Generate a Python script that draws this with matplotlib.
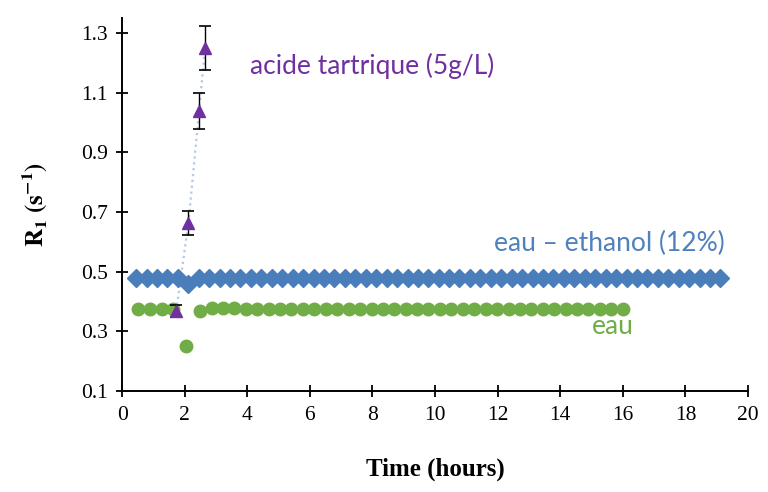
import matplotlib
matplotlib.use("Agg")
import matplotlib.pyplot as plt

plt.rcParams["mathtext.fontset"] = "stix"

# eau - ethanol (12%)
t_ethanol = [0.45, 0.78, 1.12, 1.45, 1.78, 2.12,
             2.45, 2.78, 3.12, 3.45, 3.78, 4.12, 4.45, 4.78, 5.12, 5.45, 5.78,
             6.12, 6.45, 6.78, 7.12, 7.45, 7.78, 8.12, 8.45, 8.78, 9.12, 9.45,
             9.78, 10.12, 10.45, 10.78, 11.12, 11.45, 11.78, 12.12, 12.45, 12.78,
             13.12, 13.45, 13.78, 14.12, 14.45, 14.78, 15.12, 15.45, 15.78, 16.12,
             16.45, 16.78, 17.12, 17.45, 17.78, 18.12, 18.45, 18.78, 19.12]
r1_ethanol = [0.48, 0.48, 0.48, 0.48, 0.48, 0.46,
              0.48, 0.48, 0.48, 0.48, 0.48, 0.48, 0.48, 0.48, 0.48, 0.48, 0.48,
              0.48, 0.48, 0.48, 0.48, 0.48, 0.48, 0.48, 0.48, 0.48, 0.48, 0.48,
              0.48, 0.48, 0.48, 0.48, 0.48, 0.48, 0.48, 0.48, 0.48, 0.48,
              0.48, 0.48, 0.48, 0.48, 0.48, 0.48, 0.48, 0.48, 0.48, 0.48,
              0.48, 0.48, 0.48, 0.48, 0.48, 0.48, 0.48, 0.48, 0.48]

# eau
t_eau = [0.52, 0.89, 1.27, 1.64, 2.03,
         2.49, 2.86, 3.22, 3.59, 3.95, 4.32, 4.68, 5.05, 5.41, 5.78, 6.14,
         6.51, 6.87, 7.24, 7.60, 7.97, 8.33, 8.70, 9.06, 9.43, 9.79, 10.16,
         10.52, 10.89, 11.25, 11.62, 11.98, 12.35, 12.71, 13.08, 13.44, 13.81,
         14.17, 14.54, 14.90, 15.27, 15.63, 16.00]
r1_eau = [0.375, 0.375, 0.375, 0.375, 0.25,
          0.37, 0.38, 0.378, 0.377, 0.376, 0.376, 0.376, 0.376, 0.376, 0.376, 0.376,
          0.376, 0.376, 0.376, 0.376, 0.376, 0.376, 0.376, 0.376, 0.376, 0.376, 0.376,
          0.376, 0.376, 0.376, 0.376, 0.376, 0.376, 0.376, 0.376, 0.376, 0.376,
          0.376, 0.376, 0.376, 0.376, 0.376, 0.376]

# acide tartrique (5g/L)
t_acide = [1.73, 2.12, 2.46, 2.65]
r1_acide = [0.37, 0.665, 1.04, 1.25]
err_acide = [0.02, 0.04, 0.06, 0.075]

fig = plt.figure(figsize=(7.68, 4.92), dpi=100)
ax = fig.add_axes([0.159, 0.205, 0.815, 0.758])

ax.plot(t_ethanol, r1_ethanol, linestyle="none", marker="D", markersize=9,
        color="#4a7ebb", zorder=3)
ax.plot(t_eau, r1_eau, linestyle="none", marker="o", markersize=9,
        color="#70ad47", zorder=3)
ax.plot(t_acide, r1_acide, linestyle=":", linewidth=1.6, color="#b3c8e2", zorder=2)
ax.errorbar(t_acide, r1_acide, yerr=err_acide, fmt="none", ecolor="black",
            elinewidth=1, capsize=4, capthick=1.2, zorder=4)
ax.plot(t_acide, r1_acide, linestyle="none", marker="^", markersize=8.5,
        color="#7030a0", zorder=5)

ax.set_xlim(0, 20)
ax.set_ylim(0.1, 1.35)
ax.set_xticks(range(0, 21, 2))
ax.set_yticks([0.1, 0.3, 0.5, 0.7, 0.9, 1.1, 1.3])
ax.set_yticklabels(["0.1", "0.3", "0.5", "0.7", "0.9", "1.1", "1.3"])

for side in ["top", "right"]:
    ax.spines[side].set_visible(False)
for side in ["left", "bottom"]:
    ax.spines[side].set_linewidth(1.4)
ax.tick_params(direction="inout", length=9, width=1.3, pad=6,
               labelsize=15.5, labelfontfamily="Liberation Serif")

ax.set_xlabel("Time (hours)", family="Liberation Serif", fontweight="bold",
              fontsize=18, labelpad=24)
ax.set_ylabel(r"$\mathbf{R_1\ (s^{-1})}$", fontsize=18, labelpad=22)

sans = "Lato"
ax.text(4.1, 1.19, "acide tartrique (5g/L)", color="#7030a0", family=sans,
        fontsize=19, va="center", ha="left")
ax.text(19.27, 0.595, "eau \u2013 ethanol (12%)", color="#4f81bd", family=sans,
        fontsize=19, va="center", ha="right")
ax.text(15.69, 0.315, "eau", color="#70ad47", family=sans,
        fontsize=19, va="center", ha="center")

fig.savefig("out.png", dpi=100)
